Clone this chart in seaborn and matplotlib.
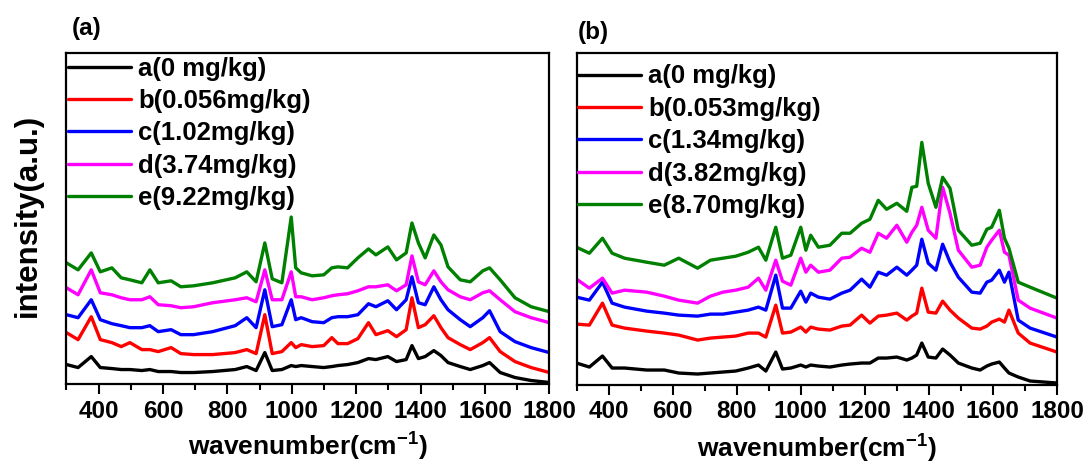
import pandas as pd
import matplotlib
matplotlib.use("Agg")
import matplotlib.pyplot as plt
import seaborn as sns
from matplotlib.ticker import MultipleLocator

# Raman spectra (intensity in arbitrary units, stacked)

# panel (a)
wn_a = [300, 336, 377, 405, 441, 470, 497, 534, 559, 585, 625, 655, 695, 754, 824, 860,
        889, 916, 939, 969, 998, 1012, 1029, 1063, 1099, 1124, 1143, 1173, 1205, 1238,
        1261, 1298, 1325, 1355, 1373, 1393, 1414, 1441, 1463, 1485, 1523, 1554, 1593,
        1614, 1647, 1693, 1743, 1800]
black_a = [20, 17, 28, 17, 16, 15, 15, 14, 15, 13, 13, 12, 12, 13, 15, 18, 14, 32, 14, 15,
           19, 18, 19, 18, 17, 18, 19, 20, 22, 26, 25, 28, 23, 25, 39, 26, 28, 34, 29, 22,
           18, 15, 19, 22, 12, 7, 4, 2]
red_a = [52, 45, 68, 45, 42, 38, 42, 35, 35, 33, 37, 31, 30, 30, 32, 35, 31, 70, 31, 33,
         42, 37, 40, 38, 39, 47, 41, 41, 46, 62, 50, 54, 48, 55, 87, 57, 60, 69, 57, 47,
         40, 35, 42, 47, 33, 23, 17, 12]
blue_a = [70, 67, 85, 65, 61, 59, 57, 57, 59, 53, 55, 50, 50, 53, 59, 67, 57, 95, 58, 60,
          85, 65, 67, 63, 62, 67, 68, 68, 70, 81, 78, 84, 75, 85, 108, 82, 80, 98, 85, 75,
          65, 58, 67, 74, 53, 43, 37, 32]
magenta_a = [97, 90, 115, 92, 90, 87, 85, 85, 88, 80, 79, 77, 78, 82, 85, 87, 83, 115, 85,
             85, 113, 88, 88, 85, 87, 89, 90, 91, 94, 98, 98, 100, 94, 100, 129, 103, 100,
             114, 103, 95, 88, 85, 92, 94, 85, 73, 67, 62]
green_a = [122, 115, 132, 113, 117, 107, 105, 102, 115, 102, 104, 98, 99, 102, 107, 113, 103,
           142, 106, 102, 168, 117, 112, 109, 110, 117, 118, 117, 127, 136, 130, 138, 125,
           132, 162, 142, 127, 150, 140, 118, 105, 103, 114, 117, 105, 87, 78, 73]
labels_a = ['a(0 mg/kg)', 'b(0.056mg/kg)', 'c(1.02mg/kg)', 'd(3.74mg/kg)', 'e(9.22mg/kg)']

# panel (b)
wn_b = [300, 340, 381, 411, 450, 519, 574, 619, 678, 718, 757, 797, 836, 868, 891, 922,
        943, 969, 1000, 1016, 1031, 1055, 1091, 1128, 1154, 1190, 1216, 1242, 1268, 1300,
        1331, 1347, 1362, 1378, 1398, 1422, 1443, 1466, 1492, 1534, 1560, 1581, 1596,
        1620, 1636, 1650, 1679, 1716, 1800]
black_b = [22, 18, 29, 17, 17, 15, 15, 12, 11, 12, 13, 14, 17, 20, 14, 33, 16, 17, 20, 18,
           20, 19, 18, 20, 21, 22, 22, 27, 27, 28, 25, 27, 30, 42, 28, 27, 36, 30, 22, 17,
           15, 19, 21, 23, 17, 12, 8, 4, 2]
red_b = [61, 60, 82, 60, 57, 54, 52, 50, 45, 47, 48, 49, 52, 52, 48, 80, 52, 53, 58, 53, 58,
         56, 55, 59, 60, 70, 62, 69, 70, 72, 65, 69, 72, 97, 73, 72, 84, 75, 67, 57, 56, 59,
         63, 66, 63, 75, 52, 42, 33]
blue_b = [88, 85, 103, 82, 78, 74, 72, 70, 69, 71, 71, 73, 75, 78, 75, 110, 77, 77, 94, 83,
          92, 88, 86, 92, 95, 106, 98, 113, 110, 118, 110, 115, 120, 146, 122, 115, 141,
          123, 108, 93, 92, 103, 105, 115, 103, 113, 65, 57, 48]
magenta_b = [106, 97, 107, 92, 95, 93, 89, 85, 82, 89, 93, 95, 98, 107, 95, 125, 104, 100,
             127, 113, 120, 113, 115, 127, 128, 137, 133, 152, 147, 160, 143, 153, 160, 178,
             155, 147, 198, 172, 135, 118, 120, 138, 145, 155, 133, 130, 85, 77, 67]
green_b = [138, 132, 147, 132, 127, 123, 120, 127, 117, 125, 127, 129, 133, 138, 125, 158,
           127, 130, 158, 135, 150, 138, 140, 152, 152, 162, 166, 185, 176, 182, 174, 198,
           199, 243, 202, 178, 208, 197, 155, 140, 142, 156, 158, 175, 147, 137, 103, 98, 87]
labels_b = ['a(0 mg/kg)', 'b(0.053mg/kg)', 'c(1.34mg/kg)', 'd(3.82mg/kg)', 'e(8.70mg/kg)']

colors = ['black', 'red', 'blue', 'magenta', 'green']


def to_long(wn, series, labels):
    frames = []
    for vals, lab in zip(series, labels):
        frames.append(pd.DataFrame({'wavenumber': wn, 'intensity': vals, 'sample': lab}))
    return pd.concat(frames, ignore_index=True)


df_a = to_long(wn_a, [black_a, red_a, blue_a, magenta_a, green_a], labels_a)
df_b = to_long(wn_b, [black_b, red_b, blue_b, magenta_b, green_b], labels_b)

sns.set_style("ticks")
plt.rcParams['font.family'] = ['Liberation Sans', 'DejaVu Sans']
plt.rcParams['font.weight'] = 'bold'
plt.rcParams['text.color'] = 'black'
plt.rcParams['xtick.color'] = 'black'
plt.rcParams['xtick.labelcolor'] = 'black'
plt.rcParams['mathtext.fontset'] = 'custom'
plt.rcParams['mathtext.rm'] = 'Liberation Sans:bold'
plt.rcParams['mathtext.default'] = 'rm'

fig = plt.figure(figsize=(10.88, 4.66), dpi=100)
ax_a = fig.add_axes([0.0611, 0.1749, 0.4439, 0.7124])
ax_b = fig.add_axes([0.5299, 0.1738, 0.4416, 0.7135])

panels = [(ax_a, df_a, labels_a, 4 / 333), (ax_b, df_b, labels_b, 12 / 333)]

for ax, df, labels, leg_drop in panels:
    sns.lineplot(data=df, x='wavenumber', y='intensity', hue='sample', hue_order=labels,
                 palette=colors, estimator=None, sort=False, linewidth=2.4, ax=ax)
    ax.set_xlim(300, 1800)
    ax.set_ylim(0, 333)
    ax.set_yticks([])
    ax.set_xlabel('')
    ax.set_ylabel('')
    ax.xaxis.set_minor_locator(MultipleLocator(100))
    ax.set_xticks(range(400, 1801, 200))
    ax.tick_params(axis='x', which='major', direction='out', length=7, width=1.5,
                   labelsize=17.5, pad=4, colors='black')
    ax.tick_params(axis='x', which='minor', direction='out', length=4, width=1.5, colors='black')
    for sp in ax.spines.values():
        sp.set_linewidth(1.6)
        sp.set_color('black')
    for t in ax.get_xticklabels():
        t.set_fontweight('bold')

    handles, lbls = ax.get_legend_handles_labels()
    leg = ax.legend(handles, lbls, loc='upper left', bbox_to_anchor=(0.003, 1 - leg_drop),
                    frameon=False, borderaxespad=0, borderpad=0, handlelength=2.45,
                    handletextpad=0.28, labelspacing=0.33,
                    prop={'family': 'Liberation Sans', 'weight': 'bold', 'size': 18.5})
    for h in leg.legend_handles:
        h.set_linewidth(2.4)

fig.text(72 / 1088, 1 - 29 / 466, '(a)', fontsize=17.5, fontweight='bold', ha='left', va='center')
fig.text(578 / 1088, 1 - 32 / 466, '(b)', fontsize=17.5, fontweight='bold', ha='left', va='center')

fig.text(28 / 1088, 1 - 215 / 466, 'intensity(a.u.)', fontsize=22.5, fontweight='bold',
         rotation=90, ha='center', va='center')

fig.text(308 / 1088, 1 - 456 / 466, 'wavenumber(cm$^{-1}$)', fontsize=19, fontweight='bold',
         ha='center', va='baseline')
fig.text(817 / 1088, 1 - 458 / 466, 'wavenumber(cm$^{-1}$)', fontsize=19, fontweight='bold',
         ha='center', va='baseline')

fig.savefig('out.png', dpi=100)
